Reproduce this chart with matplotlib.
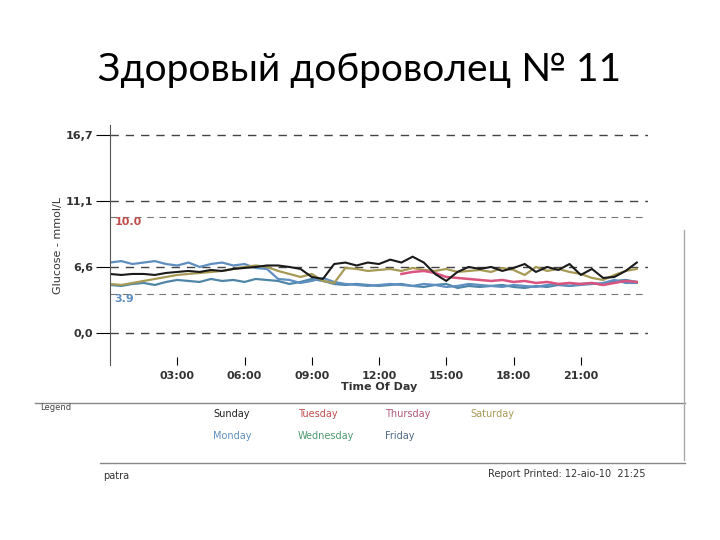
import numpy as np
import matplotlib
matplotlib.use("Agg")
import matplotlib.pyplot as plt
from matplotlib.scale import FuncScale

hours = np.arange(0, 24, 0.5)
sunday = [5.9,5.8,5.9,5.9,5.8,6.0,6.1,6.2,6.1,6.3,6.2,6.4,6.5,6.6,6.7,6.7,6.6,6.4,5.6,5.4,6.8,6.9,6.7,6.9,
          6.8,7.1,6.9,7.3,6.9,5.9,5.2,6.1,6.6,6.4,6.6,6.2,6.5,6.8,6.1,6.6,6.3,6.8,5.8,6.4,5.5,5.6,6.2,6.9]
monday = [6.9,7.0,6.8,6.9,7.0,6.8,6.7,6.9,6.6,6.8,6.9,6.7,6.8,6.5,6.4,5.4,5.3,5.0,5.2,5.5,5.1,4.9,4.8,4.7,
          4.8,4.9,4.8,4.7,4.9,4.8,4.6,4.7,4.9,4.8,4.7,4.6,4.8,4.7,4.6,4.8,4.9,4.7,4.8,4.9,5.0,5.3,5.0,5.0]
friday = [4.8,4.7,4.9,5.0,4.8,5.1,5.3,5.2,5.1,5.4,5.2,5.3,5.1,5.4,5.3,5.2,4.9,5.1,5.4,5.2,4.9,4.8,4.9,4.8,
          4.7,4.8,4.9,4.7,4.6,4.8,4.9,4.5,4.7,4.6,4.7,4.8,4.6,4.5,4.7,4.6,4.8,4.7,4.9,5.0,4.8,5.2,5.3,5.1]
saturday = [4.9,4.8,5.0,5.2,5.4,5.6,5.8,5.9,6.0,6.1,6.2,6.4,6.6,6.7,6.6,6.2,5.9,5.6,5.9,5.2,5.0,6.5,6.4,6.2,
            6.3,6.4,6.2,6.5,6.3,6.2,6.4,6.1,6.2,6.3,6.1,6.5,6.3,5.8,6.6,6.2,6.4,6.1,5.9,5.5,5.3,5.8,6.2,6.4]
thursday_h = np.arange(13.0, 24, 0.5)
thursday = [5.9,6.1,6.2,6.0,5.6,5.5,5.4,5.3,5.2,5.3,5.1,5.2,5.0,5.1,4.9,5.0,4.9,5.0,4.8,5.0,5.2,5.1]

colors = {"sunday": "#1a1a1a", "monday": "#5e8fc0", "friday": "#4f86a8",
          "saturday": "#a69a55", "thursday": "#d9557f"}

tick_vals = [0.0, 6.6, 11.1, 16.7]
src = [-20, 0.0, 6.6, 11.1, 16.7, 40]
dst = [-20/6.6, 0, 1, 2, 3, 3 + 23.3/5.6]
fwd = lambda v: np.interp(v, src, dst)
inv = lambda v: np.interp(v, dst, src)

fig = plt.figure(figsize=(7.2, 5.4), dpi=100)
fig.patch.set_facecolor("white")
ax = fig.add_axes([110/720, (540-365)/540, 538/720, 240/540])
ax.set_yscale(FuncScale(ax, (fwd, inv)))
ax.set_xlim(0, 24)
ax.set_ylim(inv(-0.485), inv(3.15))

for y in tick_vals:
    ax.axhline(y, color="#444444", ls=(0, (6, 5)), lw=1)
ax.axhline(10.0, color="#777777", ls=(0, (6, 5)), lw=0.8)
ax.axhline(3.9, color="#777777", ls=(0, (6, 5)), lw=0.8)
ax.text(0.2, 10.0, "10.0", color="#c0504d", fontsize=8, va="top", fontweight="bold")
ax.text(0.2, 3.9, "3.9", color="#5e8fc0", fontsize=8, va="top", fontweight="bold")

ax.plot(hours, friday, color=colors["friday"], lw=1.6)
ax.plot(hours, monday, color=colors["monday"], lw=1.6)
ax.plot(hours, saturday, color=colors["saturday"], lw=1.6)
ax.plot(thursday_h, thursday, color=colors["thursday"], lw=1.8)
ax.plot(hours, sunday, color=colors["sunday"], lw=1.5)

ax.set_yticks(tick_vals)
ax.set_yticklabels(["0,0", "6,6", "11,1", "16,7"], fontsize=8, fontweight="bold", color="#333333")
xt = [3, 6, 9, 12, 15, 18, 21]
ax.set_xticks(xt)
ax.set_xticklabels(["03:00", "06:00", "09:00", "12:00", "15:00", "18:00", "21:00"],
                   fontsize=8, fontweight="bold", color="#333333")
ax.tick_params(axis="x", length=6, direction="in", pad=4)
ax.tick_params(axis="y", length=10, direction="out", pad=2)
for s in ["top", "right"]:
    ax.spines[s].set_visible(False)
ax.spines["bottom"].set_visible(False)
ax.spines["left"].set_color("#555555")
ax.set_ylabel("Glucose - mmol/L", fontsize=8, color="#333333", labelpad=2)
ax.set_xlabel("Time Of Day", fontsize=8, fontweight="bold", color="#333333", labelpad=1)

fig.text(0.5, 1 - 70/540, "Здоровый доброволец № 11", ha="center", va="center",
         fontsize=28, family=["Lato", "DejaVu Sans"])

line = fig.add_axes([0, 0, 1, 1], facecolor="none")
line.set_xlim(0, 720); line.set_ylim(540, 0); line.axis("off")
line.plot([35, 685], [403, 403], color="#888888", lw=1)
line.plot([100, 685], [463, 463], color="#888888", lw=1)
line.plot([684, 684], [230, 460], color="#aaaaaa", lw=1)
line.text(40, 410, "Legend", fontsize=6, color="#444444")
items = [("Sunday", 213, 414, "#222222"), ("Tuesday", 298, 414, "#c0504d"),
         ("Thursday", 385, 414, "#b05a78"), ("Saturday", 470, 414, "#a69a55"),
         ("Monday", 213, 436, "#5e8fc0"), ("Wednesday", 298, 436, "#4f9a6f"),
         ("Friday", 385, 436, "#4f6a88")]
for t, x, y, c in items:
    line.text(x, y, t, fontsize=7, color=c, va="center")
line.text(103, 476, "patra", fontsize=7, color="#333333", va="center")
line.text(645, 474, "Report Printed: 12-аіо-10  21:25", fontsize=7, color="#333333", va="center", ha="right")

fig.savefig("out.png", dpi=100)
